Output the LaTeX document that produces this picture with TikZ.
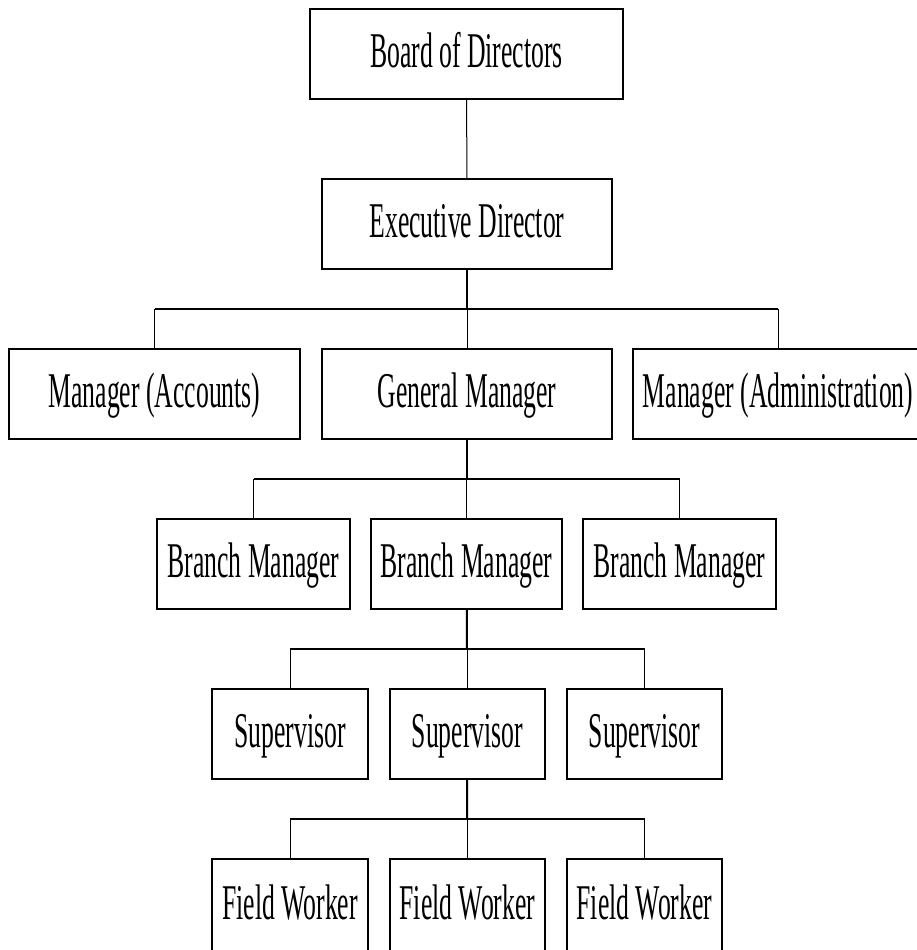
\documentclass[tikz,border=0pt]{standalone}
\usepackage{fontspec}
\newfontfamily\cond{Liberation Serif}[FakeStretch=0.514]
\tikzset{
  box/.style={draw, line width=2pt, inner sep=0pt, minimum height=90pt,
    text height=33pt, text depth=6pt, font=\cond\fontsize{50}{54}\selectfont},
  trunk/.style={line width=2pt},
  drop/.style={line width=1pt}
}
\begin{document}
\begin{tikzpicture}[x=1pt,y=-1pt]
\useasboundingbox (0,0) rectangle (917,950);
% level 1-2
\node[box, minimum width=313pt] (bod) at (466.5,54) {Board of Directors};
\node[box, minimum width=290pt] (exec) at (467,224) {Executive Director};
% level 3
\node[box, minimum width=291pt] (macc) at (154.5,393.5) {Manager (Accounts)};
\node[box, minimum width=290pt] (gm) at (467,393.5) {General Manager};
\node[box, minimum width=290pt] (madm) at (778,393.5) {Manager (Administration)};
% level 4
\node[box, minimum width=193pt] (bm1) at (253.5,563.5) {Branch Manager};
\node[box, minimum width=191pt] (bm2) at (466.5,563.5) {Branch Manager};
\node[box, minimum width=193pt] (bm3) at (679.5,563.5) {Branch Manager};
% level 5
\node[box, minimum width=156pt] (s1) at (290,734) {Supervisor};
\node[box, minimum width=155pt] (s2) at (467.5,734) {Supervisor};
\node[box, minimum width=155pt] (s3) at (644.5,734) {Supervisor};
% level 6
\node[box, minimum width=156pt, minimum height=94pt] (f1) at (290,906) {Field Worker};
\node[box, minimum width=155pt, minimum height=94pt] (f2) at (467.5,906) {Field Worker};
\node[box, minimum width=155pt, minimum height=94pt] (f3) at (644.5,906) {Field Worker};
% junctions
\coordinate (j1) at (467,309);
\coordinate (j2) at (467,479);
\coordinate (j3) at (467,649);
\coordinate (j4) at (467,819);
% connectors
\draw[drop] (bod) -- (exec);
\draw[trunk] (exec) -- (j1);
\draw[trunk] (macc.north |- j1) -- (madm.north |- j1);
\foreach \n in {macc,gm,madm} \draw[drop] (\n.north |- j1) -- (\n.north);
\draw[trunk] (gm) -- (j2);
\draw[trunk] (bm1.north |- j2) -- (bm3.north |- j2);
\foreach \n in {bm1,bm2,bm3} \draw[drop] (\n.north |- j2) -- (\n.north);
\draw[trunk] (bm2) -- (j3);
\draw[trunk] (s1.north |- j3) -- (s3.north |- j3);
\foreach \n in {s1,s2,s3} \draw[drop] (\n.north |- j3) -- (\n.north);
\draw[trunk] (s2) -- (j4);
\draw[trunk] (f1.north |- j4) -- (f3.north |- j4);
\foreach \n in {f1,f2,f3} \draw[drop] (\n.north |- j4) -- (\n.north);
\end{tikzpicture}
\end{document}
